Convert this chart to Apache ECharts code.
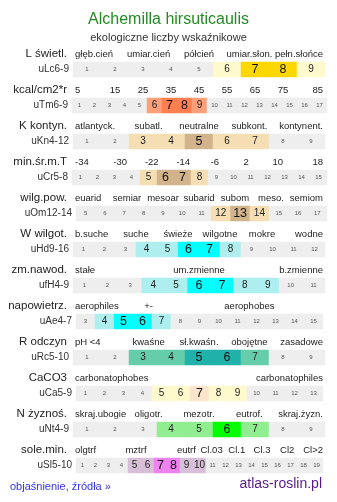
<!DOCTYPE html>
<html>
<head>
<meta charset="utf-8">
<script src="https://cdn.jsdelivr.net/npm/echarts@6/dist/echarts.min.js"></script>
<style>
html,body{margin:0;padding:0;background:#fff}
#main{width:337px;height:502px}
</style>
</head>
<body>
<div id="main"></div>
<script>
// row titles and codes
const rowNames = ['L świetl.', 'kcal/cm2*r', 'K kontyn.', 'min.śr.m.T', 'wilg.pow.', 'W wilgot.',
  'zm.nawod.', 'napowietrz.', 'R odczyn', 'CaCO3', 'N żyznoś.', 'sole.min.']
const rowCodes = ['uLc6-9', 'uTm6-9', 'uKn4-12', 'uCr5-8', 'uOm12-14', 'uHd9-16',
  'ufH4-9', 'uAe4-7', 'uRc5-10', 'uCa5-9', 'uNt4-9', 'uSl5-10']

// scale labels above each row
const hdrL = ['głęb.cień', 'umiar.cień', 'półcień', 'umiar.słon.', 'pełn.słońce']
const hdrT = ['5', '15', '25', '35', '45', '55', '65', '75', '85']
const hdrK = ['atlantyck.', 'subatl.', 'neutralne', 'subkont.', 'kontynent.']
const hdrCr = ['-34', '-30', '-22', '-14', '-6', '2', '10', '18']
const hdrOm = ['euarid', 'semiar', 'mesoar', 'subarid', 'subom', 'meso.', 'semiom']
const hdrHd = ['b.suche', 'suche', 'świeże', 'wilgotne', 'mokre', 'wodne']
const hdrfH = ['stałe', 'um.zmienne', 'b.zmienne']
const hdrAe = ['aerophiles', '+-', '', 'aerophobes', '']
const hdrRc = ['pH <4', 'kwaśne', 'sł.kwaśn.', 'obojętne', 'zasadowe']
const hdrCa = ['carbonatophobes', 'carbonatophiles']
const hdrNt = ['skraj.ubogie', 'oligotr.', 'mezotr.', 'eutrof.', 'skraj.żyzn.']
const hdrSl = ['olgtrf', '', 'mztrf', '', 'eutrf', 'Cl.03', 'Cl.1', 'Cl.3', 'Cl2', 'Cl>2']

// cell numbers
const cellsL = [1, 2, 3, 4, 5, 6, 7, 8, 9]
const cellsT = [1, 2, 3, 4, 5, 6, 7, 8, 9, 10, 11, 12, 13, 14, 15, 16, 17]
const cellsK = [1, 2, 3, 4, 5, 6, 7, 8, 9]
const cellsCr = [1, 2, 3, 4, 5, 6, 7, 8, 9, 10, 11, 12, 13, 14, 15]
const cellsOm = [5, 6, 7, 8, 9, 10, 11, 12, 13, 14, 15, 16, 17]
const cellsHd = [1, 2, 3, 4, 5, 6, 7, 8, 9, 10, 11, 12]
const cellsfH = [1, 2, 3, 4, 5, 6, 7, 8, 9, 10, 11]
const cellsAe = [3, 4, 5, 6, 7, 8, 9, 10, 11, 12, 13, 14, 15]
const cellsRc = [1, 2, 3, 4, 5, 6, 7, 8, 9]
const cellsCa = [1, 2, 3, 4, 5, 6, 7, 8, 9, 10, 11, 12, 13]
const cellsNt = [1, 2, 3, 4, 5, 6, 7, 8, 9]
const cellsSl = [1, 2, 3, 4, 5, 6, 7, 8, 9, 10, 11, 12, 13, 14, 15, 16, 17, 18, 19]

// 0 = outside range, 1 = range, 2 = optimum
const levL = [0, 0, 0, 0, 0, 1, 2, 2, 1]
const levT = [0, 0, 0, 0, 0, 1, 2, 2, 1, 0, 0, 0, 0, 0, 0, 0, 0]
const levK = [0, 0, 1, 1, 2, 1, 1, 0, 0]
const levCr = [0, 0, 0, 0, 1, 2, 2, 1, 0, 0, 0, 0, 0, 0, 0]
const levOm = [0, 0, 0, 0, 0, 0, 0, 1, 2, 1, 0, 0, 0]
const levHd = [0, 0, 0, 1, 1, 2, 2, 1, 0, 0, 0, 0]
const levfH = [0, 0, 0, 1, 1, 2, 2, 1, 1, 0, 0]
const levAe = [0, 1, 2, 2, 1, 0, 0, 0, 0, 0, 0, 0, 0]
const levRc = [0, 0, 1, 1, 2, 2, 1, 0, 0]
const levCa = [0, 0, 0, 0, 1, 1, 2, 1, 1, 0, 0, 0, 0]
const levNt = [0, 0, 0, 1, 1, 2, 1, 0, 0]
const levSl = [0, 0, 0, 0, 1, 1, 2, 2, 1, 1, 0, 0, 0, 0, 0, 0, 0, 0, 0]

const headers = [hdrL, hdrT, hdrK, hdrCr, hdrOm, hdrHd, hdrfH, hdrAe, hdrRc, hdrCa, hdrNt, hdrSl]
const cells = [cellsL, cellsT, cellsK, cellsCr, cellsOm, cellsHd, cellsfH, cellsAe, cellsRc, cellsCa, cellsNt, cellsSl]
const levels = [levL, levT, levK, levCr, levOm, levHd, levfH, levAe, levRc, levCa, levNt, levSl]

// colours: [range, optimum]
const palette = [
  ['#fffacd', '#ffd700'], ['#ffa07a', '#ff7f50'], ['#f5deb3', '#d2b48c'], ['#f5deb3', '#d2b48c'],
  ['#f5deb3', '#d2b48c'], ['#afeeee', '#00ffff'], ['#afeeee', '#00ffff'], ['#afeeee', '#00ffff'],
  ['#66cdaa', '#20b2aa'], ['#fffacd', '#fde5cc'], ['#90ee90', '#00ff00'], ['#d8bfd8', '#ee82ee']
]
const grey = '#eeeeee'
// bar left / width per row
const barLeft = [73, 72, 73, 72, 76, 73, 73, 76, 73, 76, 73, 76]
const barWidth = [252, 255, 252, 255, 251, 252, 252, 247, 252, 247, 252, 247]

const font = 'Liberation Sans, Arial, sans-serif'
const chart = echarts.init(document.getElementById('main'))

const grid = [], xAxis = [], yAxis = [], series = []
rowNames.forEach((name, r) => {
  const top = 62 + 36 * r
  const hdr = headers[r]
  const cw = 252 / hdr.length
  grid.push({left: 73, width: 252, top: top - 16, height: 16})
  grid.push({left: barLeft[r], width: barWidth[r], top: top, height: 15})
  const tok = {fontSize: 9.5, color: '#222', fontFamily: font}
  xAxis.push({
    gridIndex: 2 * r, type: 'category', position: 'top', data: hdr,
    axisLine: {show: false}, axisTick: {show: false},
    axisLabel: {
      interval: 0, inside: true, margin: 8, verticalAlign: 'middle',
      formatter: (v, i) => v === '' ? '' : i === 0 ? '{l|' + v + '}' : i === hdr.length - 1 ? '{r|' + v + '}' : '{c|' + v + '}',
      rich: {
        l: Object.assign({width: cw - 4, align: 'left'}, tok),
        r: Object.assign({width: cw - 4, align: 'right'}, tok),
        c: tok
      }
    }
  })
  yAxis.push({
    gridIndex: 2 * r, type: 'category', data: [name],
    axisLine: {show: false}, axisTick: {show: false},
    axisLabel: {fontSize: 11.5, color: '#222', margin: 6, fontFamily: font}
  })
  xAxis.push({gridIndex: 2 * r + 1, type: 'category', data: cells[r].map(String), show: false})
  yAxis.push({
    gridIndex: 2 * r + 1, type: 'category', data: [rowCodes[r]],
    axisLine: {show: false}, axisTick: {show: false},
    axisLabel: {fontSize: 10, color: '#333', margin: 4, fontFamily: font}
  })
  const lev = levels[r]
  series.push({
    type: 'heatmap', xAxisIndex: 2 * r + 1, yAxisIndex: 2 * r + 1, silent: true,
    data: cells[r].map((c, i) => ({
      value: [i, 0, lev[i]],
      itemStyle: {color: lev[i] === 0 ? grey : palette[r][lev[i] - 1]}
    })),
    label: {
      show: true,
      formatter: p => '{' + ['s', 'm', 'b'][lev[p.value[0]]] + '|' + cells[r][p.value[0]] + '}',
      rich: {
        s: {fontSize: 6, color: '#555', fontFamily: font},
        m: {fontSize: 10, color: '#222', fontFamily: font},
        b: {fontSize: 12.5, color: '#111', fontFamily: font}
      }
    }
  })
})

const option = {
  animation: false,
  textStyle: {fontFamily: font},
  title: [
    {text: 'Alchemilla hirsuticaulis', left: 'center', top: 7,
      textStyle: {fontSize: 16, fontWeight: 'normal', color: '#228b22', fontFamily: font}},
    {text: 'ekologiczne liczby wskaźnikowe', left: 'center', top: 27,
      textStyle: {fontSize: 11, fontWeight: 'normal', color: '#333', fontFamily: font}},
    {text: 'objaśnienie, źródła »', left: 5, top: 476,
      textStyle: {fontSize: 11, fontWeight: 'normal', color: '#3333ee', fontFamily: font}},
    {text: 'atlas-roslin.pl', right: 10, top: 472,
      textStyle: {fontSize: 14, fontWeight: 'normal', color: '#551a8b', fontFamily: font}}
  ],
  grid: grid,
  xAxis: xAxis,
  yAxis: yAxis,
  series: series
}
chart.setOption(option)
</script>
</body>
</html>
